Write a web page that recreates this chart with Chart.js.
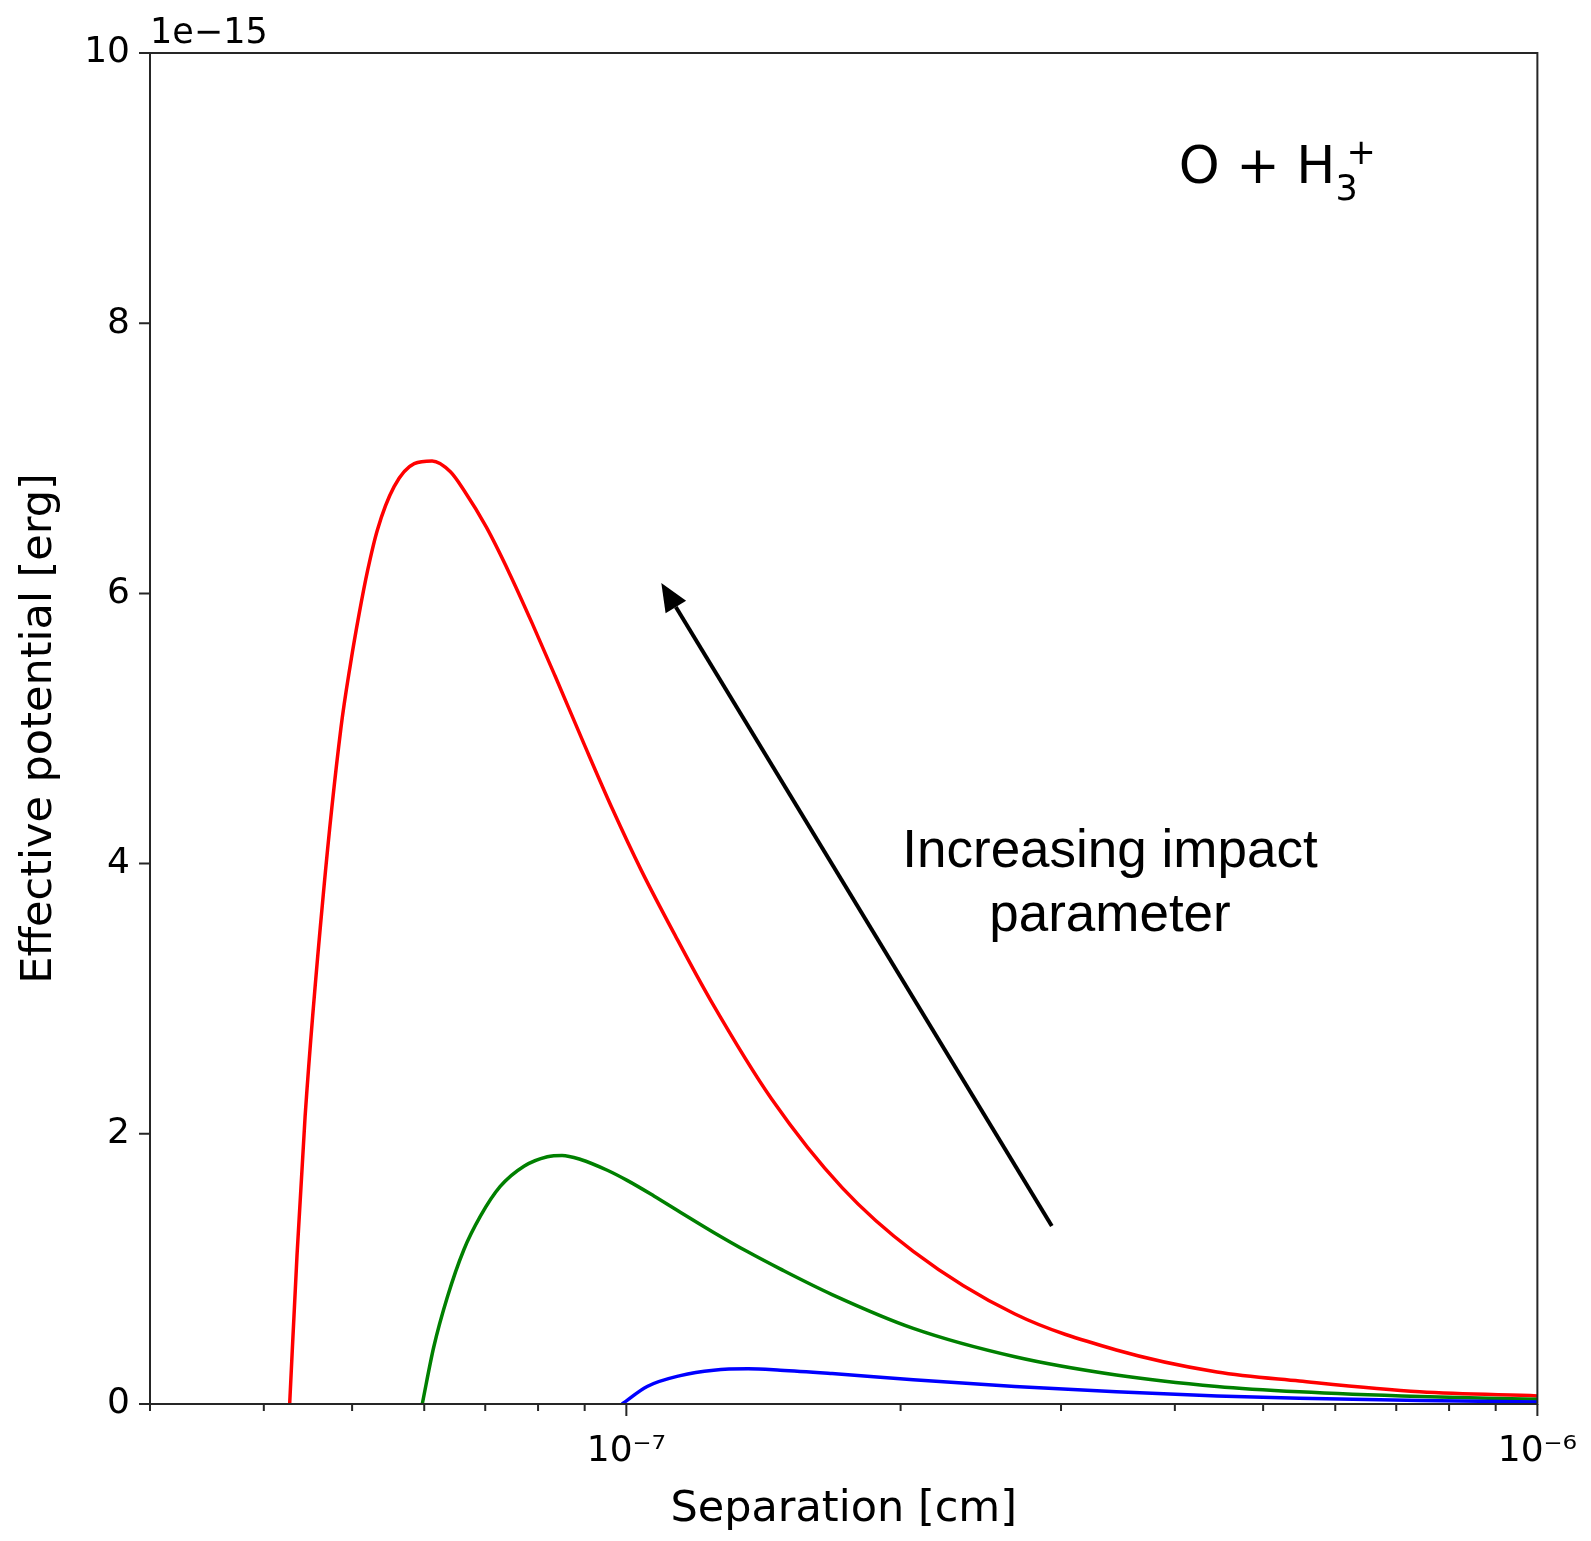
<!DOCTYPE html>
<html><head><meta charset="utf-8">
<script src="https://cdn.jsdelivr.net/npm/chart.js@4/dist/chart.umd.min.js"></script>
<style>html,body{margin:0;padding:0;background:#fff;}</style>
</head><body>
<canvas id="c" width="1591" height="1541"></canvas>
<script>
// ---- data (separation in cm, effective potential in units of 1e-15 erg) ----
const redX   = [4.27e-8, 4.35e-8, 4.44e-8, 4.65e-8, 4.86e-8, 4.98e-8, 5.09e-8, 5.20e-8, 5.33e-8, 5.56e-8, 5.85e-8, 6.12e-8, 6.41e-8, 6.63e-8, 7.02e-8, 7.44e-8, 7.88e-8, 8.35e-8, 8.98e-8, 9.66e-8, 1.0385e-7, 1.133e-7, 1.237e-7, 1.443e-7, 1.726e-7, 2.065e-7, 2.67e-7, 3.45e-7, 4.45e-7, 5.48e-7, 7.43e-7, 1e-6];
const redY   = [0, 1.1, 2.13, 3.78, 5.00, 5.48, 5.85, 6.17, 6.47, 6.79, 6.96, 6.98, 6.90, 6.765, 6.49, 6.15, 5.78, 5.39, 4.89, 4.40, 3.95, 3.46, 2.99, 2.26, 1.60, 1.13, 0.666, 0.40, 0.237, 0.17, 0.09, 0.06];
const greenX = [5.97e-8, 6.145e-8, 6.36e-8, 6.63e-8, 6.915e-8, 7.27e-8, 7.72e-8, 8.19e-8, 8.50e-8, 8.91e-8, 9.53e-8, 1.002e-7, 1.072e-7, 1.146e-7, 1.247e-7, 1.356e-7, 1.475e-7, 1.682e-7, 2.065e-7, 2.67e-7, 3.45e-7, 4.45e-7, 5.48e-7, 7.43e-7, 1e-6];
const greenY = [0, 0.42, 0.79, 1.14, 1.39, 1.61, 1.76, 1.83, 1.84, 1.81, 1.73, 1.655, 1.54, 1.42, 1.27, 1.13, 1.00, 0.81, 0.56, 0.35, 0.215, 0.13, 0.09, 0.055, 0.035];
const blueX  = [9.89e-8, 1.054e-7, 1.146e-7, 1.247e-7, 1.36e-7, 1.475e-7, 1.682e-7, 2.065e-7, 2.67e-7, 3.45e-7, 4.45e-7, 5.48e-7, 7.43e-7, 1e-6];
const blueY  = [0, 0.13, 0.21, 0.25, 0.26, 0.25, 0.225, 0.18, 0.13, 0.09, 0.06, 0.042, 0.025, 0.015];

const xMin = 3e-8, xMax = 1e-6;
const yMin = 0, yMax = 10;
const xMajorTicks = [1e-7, 1e-6];
const xMajorLabels = ['10\u207B\u2077', '10\u207B\u2076'];
const xMinorTicks = [3e-8, 4e-8, 5e-8, 6e-8, 7e-8, 8e-8, 9e-8, 2e-7, 3e-7, 4e-7, 5e-7, 6e-7, 7e-7, 8e-7, 9e-7];
const yTicks = [0, 2, 4, 6, 8, 10];
const yOffsetText = '1e\u221215';
const xTitle = 'Separation [cm]';
const yTitle = 'Effective potential [erg]';
const annotLines = ['Increasing impact', 'parameter'];

const AX = '#262626';
const FONT = "'DejaVu Sans'";

function pts(xs, ys) { return xs.map((v, i) => ({x: v, y: ys[i]})); }

const annot = {
  id: 'annot',
  afterDraw(chart) {
    const {ctx, chartArea: a, scales: {x, y}} = chart;
    ctx.save();
    // axes frame
    ctx.strokeStyle = AX; ctx.lineWidth = 2;
    ctx.strokeRect(a.left, a.top, a.right - a.left, a.bottom - a.top);
    // tick marks
    ctx.beginPath();
    x.ticks.forEach(t => {
      const px = x.getPixelForValue(t.value);
      const len = t.major ? 12 : 7;
      ctx.moveTo(px, a.bottom); ctx.lineTo(px, a.bottom + len);
    });
    y.ticks.forEach(t => {
      const py = y.getPixelForValue(t.value);
      ctx.moveTo(a.left, py); ctx.lineTo(a.left - 11, py);
    });
    ctx.stroke();
    // offset text
    ctx.fillStyle = '#000';
    ctx.font = "35px " + FONT;
    ctx.textAlign = 'left'; ctx.textBaseline = 'alphabetic';
    ctx.fillText(yOffsetText, a.left, a.top - 10);
    // O + H3+ label
    const lx = x.getPixelForValue(4.04e-7), ly = y.getPixelForValue(9.038);
    ctx.font = "52px " + FONT;
    ctx.fillText('O + H', lx, ly);
    const w = ctx.measureText('O + H').width;
    ctx.font = "35px " + FONT;
    ctx.fillText('3', lx + w, ly + 17);
    ctx.fillText('+', lx + w + 11, ly - 19);
    // arrow
    const tx = x.getPixelForValue(2.931e-7), ty = y.getPixelForValue(1.318);
    const hx = x.getPixelForValue(1.0924e-7), hy = y.getPixelForValue(6.077);
    const ang = Math.atan2(hy - ty, hx - tx);
    const hl = 28, hw = 12;
    const bx = hx - hl * Math.cos(ang), by = hy - hl * Math.sin(ang);
    ctx.strokeStyle = '#000'; ctx.lineWidth = 4;
    ctx.beginPath(); ctx.moveTo(tx, ty); ctx.lineTo(bx, by); ctx.stroke();
    ctx.fillStyle = '#000';
    ctx.beginPath();
    ctx.moveTo(hx, hy);
    ctx.lineTo(bx + hw * Math.sin(ang), by - hw * Math.cos(ang));
    ctx.lineTo(bx - hw * Math.sin(ang), by + hw * Math.cos(ang));
    ctx.closePath(); ctx.fill();
    // annotation text
    ctx.font = "53px 'Liberation Sans'";
    ctx.textAlign = 'center';
    const cx = x.getPixelForValue(3.395e-7);
    ctx.fillText(annotLines[0], cx, y.getPixelForValue(3.975));
    ctx.fillText(annotLines[1], cx, y.getPixelForValue(3.501));
    ctx.restore();
  }
};

new Chart(document.getElementById('c'), {
  type: 'line',
  data: {
    datasets: [
      {data: pts(blueX, blueY), borderColor: '#0000ff'},
      {data: pts(greenX, greenY), borderColor: '#008000'},
      {data: pts(redX, redY), borderColor: '#ff0000'}
    ]
  },
  options: {
    responsive: false,
    animation: false,
    devicePixelRatio: 1,
    layout: {padding: {left: 0, top: 53, right: 53, bottom: 0}},
    elements: {
      point: {radius: 0},
      line: {borderWidth: 3.5, cubicInterpolationMode: 'monotone', fill: false}
    },
    plugins: {legend: {display: false}, tooltip: {enabled: false}},
    scales: {
      x: {
        type: 'logarithmic', min: xMin, max: xMax,
        afterBuildTicks(s) {
          const all = xMinorTicks.map(v => ({value: v, major: false}))
            .concat(xMajorTicks.map(v => ({value: v, major: true})));
          all.sort((a, b) => a.value - b.value);
          s.ticks = all;
        },
        afterFit(s) { s.height = 137; },
        grid: {display: false, drawTicks: true, tickLength: 12},
        border: {display: false},
        ticks: {
          autoSkip: false, maxRotation: 0, padding: 14,
          color: '#000', font: {family: 'DejaVu Sans', size: 36},
          callback(v) {
            const i = xMajorTicks.findIndex(m => Math.abs(m - v) / m < 1e-6);
            return i >= 0 ? xMajorLabels[i] : '';
          }
        },
        title: {display: true, text: xTitle, color: '#000',
          font: {family: 'DejaVu Sans', size: 43}, padding: {top: 0, bottom: 5}}
      },
      y: {
        type: 'linear', min: yMin, max: yMax,
        afterBuildTicks(s) { s.ticks = yTicks.map(v => ({value: v})); },
        afterFit(s) { s.width = 150; },
        grid: {display: false, drawTicks: true, tickLength: 11},
        border: {display: false},
        ticks: {padding: 9, color: '#000', font: {family: 'DejaVu Sans', size: 36},
          callback(v) { return String(v); }},
        title: {display: true, text: yTitle, color: '#000',
          font: {family: 'DejaVu Sans', size: 43}, padding: {top: 14, bottom: 0}}
      }
    }
  },
  plugins: [annot]
});
</script>
</body></html>
